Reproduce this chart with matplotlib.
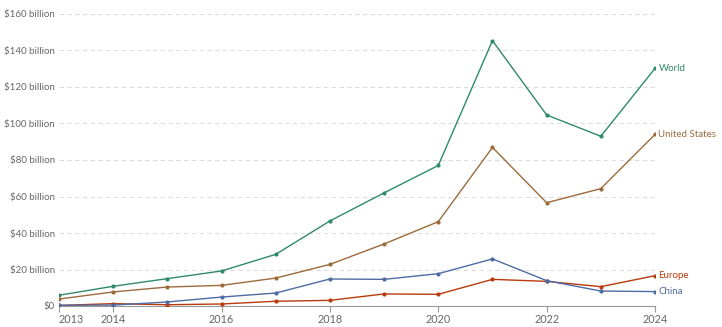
import matplotlib.pyplot as plt

years = [2013, 2014, 2015, 2016, 2017, 2018, 2019, 2020, 2021, 2022, 2023, 2024]
world = [5.9, 10.8, 15.0, 19.2, 28.3, 46.6, 62.0, 77.0, 145.4, 104.7, 93.0, 130.2]
united_states = [3.8, 7.7, 10.4, 11.3, 15.3, 22.8, 34.0, 46.2, 86.9, 56.6, 64.3, 94.0]
china = [0.4, 0.5, 2.2, 4.9, 7.1, 14.8, 14.6, 17.7, 25.8, 13.9, 8.2, 7.9]
europe = [0.3, 1.3, 0.7, 1.1, 2.6, 3.1, 6.6, 6.4, 14.6, 13.5, 10.6, 16.6]

series = [
    ("World", world, "#2e8a6b"),
    ("United States", united_states, "#9c6b3b"),
    ("Europe", europe, "#b93a0c"),
    ("China", china, "#4f6ba3"),
]

xticks = [2013, 2014, 2016, 2018, 2020, 2022, 2024]
yticks = [0, 20, 40, 60, 80, 100, 120, 140, 160]
ylabels = ["$0"] + ["$%d billion" % v for v in yticks[1:]]

plt.rcParams['font.family'] = ['Lato', 'DejaVu Sans']

fig = plt.figure(figsize=(7.22, 3.27), dpi=100)
ax = fig.add_axes([59 / 722, 21 / 327, (655 - 59) / 722, (306 - 14) / 327])

for name, vals, col in series:
    ax.plot(years, vals, color=col, lw=1.0, marker='o', ms=2.0, zorder=3)

# labels at the line ends
for name, vals, col in series:
    ax.annotate(name, xy=(years[-1], vals[-1]), xytext=(2.5, 0),
                textcoords='offset points', va='center', ha='left',
                color=col, fontsize=7, annotation_clip=False)

ax.set_xlim(2013, 2024)
ax.set_ylim(0, 160)
ax.set_yticks(yticks)
ax.set_yticklabels(ylabels)
ax.set_xticks(xticks)
ax.set_xticklabels([str(x) for x in xticks])
ax.get_xticklabels()[0].set_ha('left')

ax.grid(axis='y', color='#dddddd', ls=(0, (4, 3)), lw=0.8)
ax.set_axisbelow(True)
for s in ['top', 'right', 'left']:
    ax.spines[s].set_visible(False)
ax.spines['bottom'].set_color('#999999')
ax.tick_params(axis='y', length=0, pad=3, labelsize=7, labelcolor='#666666')
ax.tick_params(axis='x', length=4, color='#999999', pad=1.5, labelsize=7.8, labelcolor='#666666')

fig.savefig('out.png', dpi=100)
